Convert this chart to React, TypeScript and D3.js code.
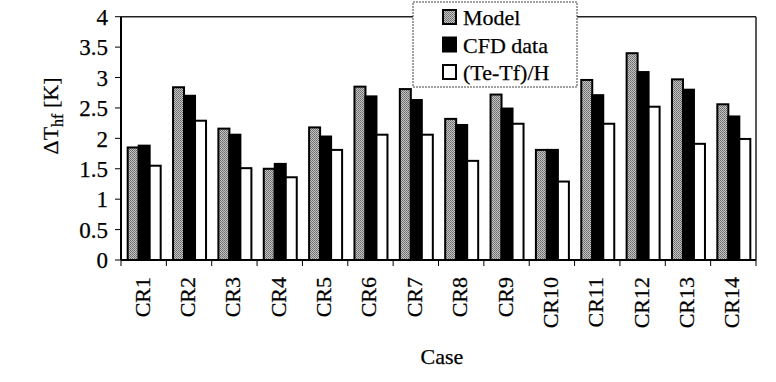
import React from "react";
import * as d3 from "d3";

const categories = ["CR1","CR2","CR3","CR4","CR5","CR6","CR7","CR8","CR9","CR10","CR11","CR12","CR13","CR14"];
const modelValues = [1.85, 2.84, 2.16, 1.50, 2.18, 2.85, 2.81, 2.32, 2.72, 1.81, 2.96, 3.40, 2.97, 2.56];
const cfdValues = [1.88, 2.70, 2.06, 1.58, 2.03, 2.69, 2.63, 2.22, 2.49, 1.81, 2.71, 3.09, 2.80, 2.36];
const ratioValues = [1.55, 2.29, 1.51, 1.36, 1.81, 2.06, 2.06, 1.63, 2.24, 1.29, 2.24, 2.52, 1.91, 1.99];
const yTicks = [0, 0.5, 1, 1.5, 2, 2.5, 3, 3.5, 4];
const yTickLabels = ["0", "0.5", "1", "1.5", "2", "2.5", "3", "3.5", "4"];
const seriesNames = ["Model", "CFD data", "(Te-Tf)/H"];

const W = 776, H = 382;
const left = 121, right = 756, top = 16.7, bottom = 260;
const FONT = "'Liberation Serif', 'Times New Roman', serif";

export default function App() {
  const x = d3.scaleBand<string>().domain(categories).range([left, right]).paddingInner(0).paddingOuter(0);
  const y = d3.scaleLinear().domain([0, 4]).range([bottom, top]);
  const groupW = 33;
  const inner = d3.scaleBand<number>().domain([0, 1, 2]).range([0, groupW]);
  const series = [modelValues, cfdValues, ratioValues];
  const fills = ["url(#modelPat)", "#000", "#fff"];
  const txt = { fill: "#000", stroke: "#000", strokeWidth: 0.25 };

  return (
    <svg width={W} height={H} style={{ position: "absolute", left: 0, top: 0, background: "#fff" }} fontFamily={FONT}>
      <defs>
        <pattern id="modelPat" width="2" height="2" patternUnits="userSpaceOnUse">
          <rect width="2" height="2" fill="#c4c4c4" />
          <rect x="0" y="0" width="1" height="1" fill="#6a6a6a" />
          <rect x="1" y="1" width="1" height="1" fill="#7a7a7a" />
        </pattern>
      </defs>
      <rect x={0} y={0} width={W} height={H} fill="#fff" />
      {categories.map((c, i) => {
        const cx = (x(c) as number) + x.bandwidth() / 2 + 0.5;
        const gx = cx - groupW / 2;
        return series.map((s, k) => (
          <rect key={c + k}
            x={gx + (inner(k) as number)}
            y={y(s[i])}
            width={inner.bandwidth()}
            height={bottom - y(s[i])}
            fill={fills[k]} stroke="#000" strokeWidth={2} />
        ));
      })}
      <line x1={left} x2={left} y1={top} y2={bottom} stroke="#000" strokeWidth={2} />
      <line x1={left} x2={right} y1={bottom} y2={bottom} stroke="#000" strokeWidth={2} />
      <line x1={left} x2={right} y1={top} y2={top} stroke="#222" strokeWidth={1.5} />
      <line x1={right} x2={right} y1={top} y2={bottom} stroke="#222" strokeWidth={1.5} />
      {yTicks.map((t, i) => (
        <g key={"yt" + i}>
          <line x1={left - 6} x2={left} y1={y(t)} y2={y(t)} stroke="#000" strokeWidth={1} />
          <text x={108} y={y(t)} dy="0.36em" textAnchor="end" fontSize={23} {...txt}>{yTickLabels[i]}</text>
        </g>
      ))}
      {categories.map((c, i) => (
        <line key={"xt" + i} x1={(x(c) as number) + x.bandwidth()} x2={(x(c) as number) + x.bandwidth()}
          y1={bottom} y2={bottom + 6} stroke="#000" strokeWidth={1} />
      ))}
      <line x1={left} x2={left} y1={bottom} y2={bottom + 6} stroke="#000" strokeWidth={1} />
      {categories.map((c) => {
        const cx = (x(c) as number) + x.bandwidth() / 2 + 6;
        return (
          <text key={"xl" + c} transform={`translate(${cx},277) rotate(-90)`} textAnchor="end" fontSize={22} {...txt}>{c}</text>
        );
      })}
      <text x={442} y={364} textAnchor="middle" fontSize={22} {...txt}>Case</text>
      <text transform="translate(58,116) rotate(-90)" textAnchor="middle" fontSize={22} {...txt}>
        ΔT<tspan fontSize={16} dy={5}>hf</tspan><tspan dy={-5}> [K]</tspan>
      </text>
      <rect x={413} y={2} width={164} height={85} fill="#fff" stroke="#444" strokeWidth={1} strokeDasharray="2,1" />
      {seriesNames.map((n, k) => {
        const by = 25 + k * 27.5;
        return (
          <g key={"lg" + k}>
            <rect x={443} y={by - 15} width={13} height={14} fill={fills[k]} stroke="#000" strokeWidth={2} />
            <text x={463} y={by} fontSize={22} {...txt}>{n}</text>
          </g>
        );
      })}
    </svg>
  );
}
